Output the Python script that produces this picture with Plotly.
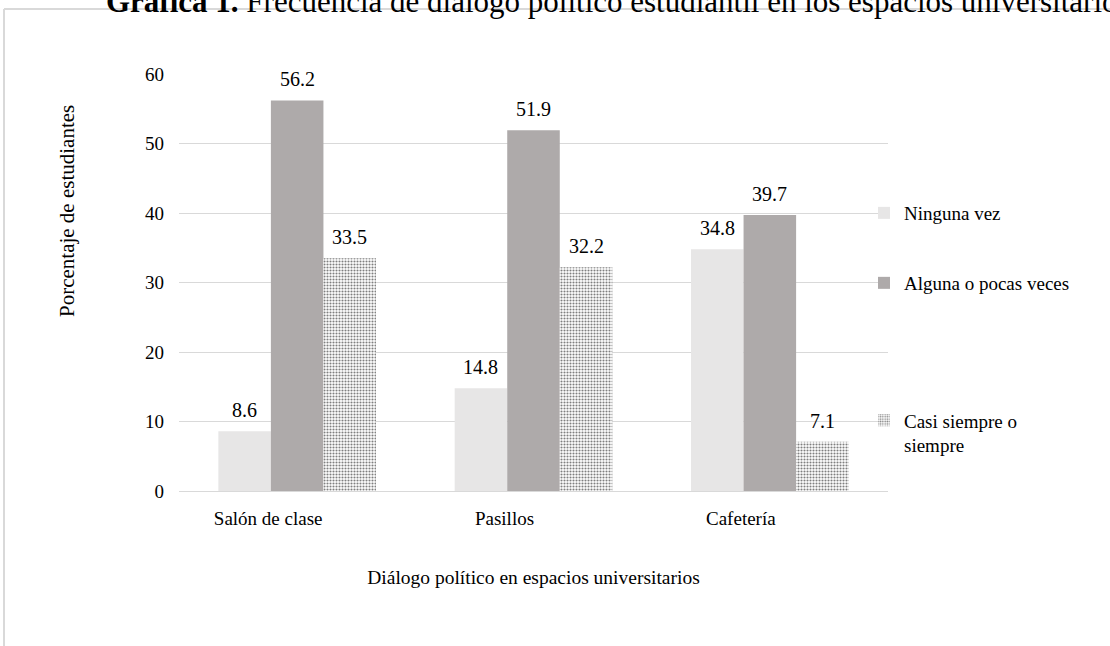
import plotly.graph_objects as go

categories = ["Salón de clase", "Pasillos", "Cafetería"]
series_names = ["Ninguna vez", "Alguna o pocas veces", "Casi siempre o<br>siempre"]
ninguna = [8.6, 14.8, 34.8]
alguna = [56.2, 51.9, 39.7]
casi = [33.5, 32.2, 7.1]
y_ticks = [0, 10, 20, 30, 40, 50, 60]

FONT = "Liberation Serif"
W, H = 1110, 646
L, R, T, B = 179, 888, 74, 491
pw, ph = R - L, B - T
BARGAP = 0.333


def px_x(x):
    return (x - L) / pw


def px_y(y):
    return (B - y) / ph


fig = go.Figure()
fig.add_trace(go.Bar(
    x=categories, y=ninguna, name=series_names[0],
    marker=dict(color="#E7E6E6", line=dict(width=0)),
    legend="legend",
))
fig.add_trace(go.Bar(
    x=categories, y=alguna, name=series_names[1],
    marker=dict(color="#AEAAAA", line=dict(width=0)),
    legend="legend2",
))
fig.add_trace(go.Bar(
    x=categories, y=casi, name=series_names[2],
    marker=dict(color="#FFFFFF", line=dict(width=0),
                pattern=dict(shape=".", fgcolor="#000000", bgcolor="#FFFFFF",
                             size=3, solidity=0.38)),
    legend="legend3",
))

# data labels placed above each bar through the axis coordinates
cat_px = pw / len(categories)
bar_px = cat_px * (1 - BARGAP) / 3
annotations = []
for k, vals in enumerate([ninguna, alguna, casi]):
    for cat, v in zip(categories, vals):
        annotations.append(dict(
            x=cat, y=v, xref="x", yref="y", text=f"{v:.1f}",
            xshift=(k - 1) * bar_px, yshift=21, showarrow=False,
            xanchor="center", yanchor="middle",
            font=dict(family=FONT, size=20, color="#000000"),
        ))

annotations.append(dict(
    text="Porcentaje de estudiantes", textangle=-90,
    xref="paper", yref="paper", x=px_x(67), y=px_y(211),
    xanchor="center", yanchor="middle", showarrow=False,
    font=dict(family=FONT, size=21, color="#000000")))
annotations.append(dict(
    text="<b>Gráfica 1.</b> Frecuencia de diálogo político estudiantil en los espacios universitarios",
    xref="paper", yref="paper", x=px_x(104), y=px_y(21),
    xanchor="left", yanchor="bottom", showarrow=False,
    font=dict(family=FONT, size=31, color="#000000")))

legend_common = dict(
    xref="paper", yref="paper", xanchor="left", yanchor="middle",
    font=dict(family=FONT, size=19, color="#000000"),
    bgcolor="rgba(0,0,0,0)", borderwidth=0, itemwidth=30,
)

fig.update_layout(
    width=W, height=H,
    margin=dict(l=L, r=W - R, t=T, b=H - B, autoexpand=False),
    paper_bgcolor="#FFFFFF", plot_bgcolor="#FFFFFF",
    font=dict(family=FONT, size=19, color="#000000"),
    barmode="group", bargap=BARGAP, bargroupgap=0,
    showlegend=True,
    legend=dict(x=px_x(864), y=px_y(213), **legend_common),
    legend2=dict(x=px_x(864), y=px_y(283), **legend_common),
    legend3=dict(x=px_x(864), y=px_y(433), valign="top", **legend_common),
    xaxis=dict(
        showline=True, linecolor="#D9D9D9", linewidth=1,
        ticks="", showgrid=False,
        tickfont=dict(family=FONT, size=19, color="#000000"),
        ticklabelshift=-29, ticklabelstandoff=10,
        title=dict(text="Diálogo político en espacios universitarios",
                   font=dict(family=FONT, size=19.5, color="#000000"), standoff=42),
    ),
    yaxis=dict(
        range=[0, 60], tickvals=y_ticks, showgrid=True, gridcolor="#D9D9D9",
        gridwidth=1, zeroline=False, showline=False, ticks="",
        tickfont=dict(family=FONT, size=19, color="#000000"),
        ticklabelstandoff=14,
    ),
    shapes=[
        dict(type="line", xref="paper", yref="paper",
             x0=px_x(4), x1=px_x(1120), y0=px_y(9), y1=px_y(9),
             line=dict(color="#D9D9D9", width=2)),
        dict(type="line", xref="paper", yref="paper",
             x0=px_x(4), x1=px_x(4), y0=px_y(9), y1=px_y(660),
             line=dict(color="#D9D9D9", width=2)),
    ],
    annotations=annotations,
)

fig.write_html("out.html")
